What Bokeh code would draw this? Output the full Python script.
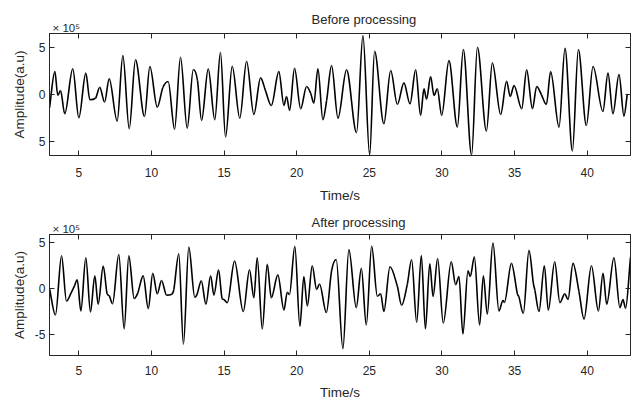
import numpy as np
from bokeh.plotting import figure
from bokeh.layouts import column
from bokeh.models import Range1d, LinearAxis, FixedTicker, Title, ColumnDataSource
from bokeh.embed import file_html
from bokeh.resources import INLINE

# ---------------- data (amplitude in units of 1e5) ----------------
t_before = [2.98, 3.35, 3.55, 3.74, 4.03, 4.58, 5.0, 5.48, 5.76, 6.15, 6.44, 6.77, 7.09, 7.64,
            8.03, 8.47, 8.9, 9.52, 9.89, 10.4, 10.78, 11.15, 11.59, 12.0, 12.46, 12.88, 13.17,
            13.45, 13.91, 14.36, 14.75, 15.1, 15.56, 16.08, 16.55, 17.05, 17.51, 17.86, 18.25,
            18.77, 19.12, 19.3, 19.51, 19.85, 20.27, 20.68, 20.96, 21.18, 21.46, 21.8, 22.06,
            22.4, 22.84, 23.43, 24.12, 24.56, 25.02, 25.36, 26.0, 26.47, 26.93, 27.38, 27.8,
            28.19, 28.53, 28.76, 28.94, 29.22, 29.45, 29.68, 29.98, 30.48, 31.06, 31.47, 32.04,
            32.44, 33.06, 33.47, 34.04, 34.45, 34.7, 34.96, 35.49, 35.83, 36.23, 36.52, 36.84,
            37.19, 37.48, 38.06, 38.47, 38.98, 39.39, 39.94, 40.4, 41.08, 41.43, 41.77, 42.19,
            42.53, 42.76]
a_before = [-1.43, 2.46, -0.1, 0.43, -2.07, 2.75, -2.5, 2.29, -0.57, -0.39, 0.78, -0.82, 1.68, -2.86,
            4.18, -3.68, 3.72, -2.36, 3.0, -1.36, 0.72, 1.39, -3.72, 4.0, -3.61, 2.68, 1.5,
            -2.79, 2.75, -2.71, 4.53, -4.57, 3.03, -2.54, 3.57, -2.14, 1.79, 0.36, -1.18,
            2.46, -1.18, -0.21, -1.71, 2.82, -1.53, 0.86, 0.14, -0.93, 2.75, -2.71, -0.64,
            3.1, -2.54, 2.64, -4.1, 6.32, -6.5, 4.64, -3.14, 2.57, -1.07, 1.25, -1.0,
            2.64, -2.25, 0.6, -0.5, 1.93, -0.1, 0.6, -2.25, 3.64, -3.5, 4.82, -6.5,
            5.07, -3.93, 3.4, -2.14, 1.43, -0.21, 0.96, -1.53, 2.64, -1.53, 0.86, 0.0,
            -1.07, 2.46, -3.5, 4.96, -6.07, 4.82, -3.32, 3.0, -1.82, 2.29, -2.07, 2.14,
            -2.32, 0.07]

t_after = [2.98, 3.39, 3.81, 4.15, 4.47, 4.7, 4.89, 5.14, 5.48, 5.8, 6.1, 6.33, 6.68, 6.95, 7.1,
           7.32, 7.75, 8.12, 8.44, 8.81, 9.06, 9.43, 9.78, 10.09, 10.4, 10.69, 11.04, 11.36,
           11.54, 11.88, 12.2, 12.57, 12.98, 13.15, 13.43, 13.75, 14.07, 14.3, 14.62, 14.87,
           15.0, 15.22, 15.72, 16.32, 16.75, 17.05, 17.28, 17.63, 17.97, 18.25, 18.7, 19.12,
           19.35, 19.5, 19.87, 20.22, 20.49, 20.73, 21.07, 21.37, 21.57, 22.04, 22.4, 22.72,
           23.18, 23.59, 24.1, 24.45, 24.79, 25.16, 25.55, 25.78, 26.0, 26.42, 26.93, 27.22,
           27.61, 27.91, 28.26, 28.58, 28.86, 29.16, 29.39, 29.7, 30.09, 30.64, 30.94, 31.17,
           31.44, 31.79, 31.95, 32.23, 32.59, 32.85, 33.12, 33.51, 33.92, 34.2, 34.3, 34.78,
           35.19, 35.3, 35.6, 35.99, 36.29, 36.4, 36.68, 37.05, 37.32, 37.76, 38.12, 38.45,
           38.68, 39.02, 39.43, 39.78, 40.29, 40.77, 41.09, 41.34, 41.84, 42.25, 42.46, 42.64,
           42.98]
a_after = [0.0, -2.86, 3.57, -1.36, -0.46, 0.3, 0.96, -2.43, 3.36, -2.54, 1.39, -1.71, 2.46, -0.57, -0.8,
           -1.64, 3.72, -4.39, 3.57, -1.07, -0.46, 1.39, -2.18, 1.68, -0.57, 0.89, -0.71, -0.64,
           -0.1, 3.79, -6.07, 4.53, -0.93, -0.57, 0.86, -1.71, 1.41, -0.71, 2.04, -1.11,
           -1.2, -1.53, 3.0, -2.5, 2.04, -1.0, 3.36, -4.39, 2.64, -1.0, 1.5, -2.32,
           -0.39, -0.64, 4.61, -4.1, 1.32, -1.89, 2.5, -0.1, 0.5, -2.61, 1.93, 3.18,
           -6.54, 4.25, -2.07, 2.22, -3.97, 4.64, -0.82, -0.57, -2.5, 2.39, 0.25, -1.82,
           0.43, 3.18, -3.68, 3.6, -4.39, 2.7, -0.85, 3.29, -3.75, 2.93, 0.43, 1.32,
           -4.93, 1.93, 1.32, 3.46, -3.97, 1.39, -2.79, 5.0, -2.43, -1.29, -1.5, 2.75,
           -0.57, -0.9, -2.71, 4.18, 0.61, -0.2, -2.5, 2.5, -2.36, 2.93, -1.53, -0.57,
           -1.18, 2.75, -0.29, -3.32, 2.5, -2.43, 1.68, -1.71, 3.36, -2.07, -1.18, -2.14,
           3.4]

x_ticks = [5, 10, 15, 20, 25, 30, 35, 40]
y_ticks = [-5, 0, 5]
y_labels_before = {-5: "5", 0: "0", 5: "5"}
y_labels_after = {-5: "-5", 0: "0", 5: "5"}
titles = ["Before processing", "After  processing"]
x_label = "Time/s"
y_label = "Amplitude(a.u)"
exponent_text = "\u00d7 10\u2075"
x_lim = (2.98, 42.98)
y_lim_before = (-6.55, 6.55)
y_lim_after = (-7.29, 5.9)

FONT = "Liberation Sans"
TXT = "#262626"


def bezier_source(t, a):
    t = np.asarray(t, float)
    a = np.asarray(a, float)
    n = len(t)
    sec = np.diff(a) / np.diff(t)
    m = np.zeros(n)
    m[0] = sec[0]
    m[-1] = sec[-1]
    for i in range(1, n - 1):
        if sec[i - 1] * sec[i] <= 0:
            m[i] = 0.0
        else:
            s = (a[i + 1] - a[i - 1]) / (t[i + 1] - t[i - 1])
            lim = 3 * min(abs(sec[i - 1]), abs(sec[i]))
            m[i] = np.sign(s) * min(abs(s), lim)
    dt = np.diff(t)
    return ColumnDataSource(dict(
        x0=t[:-1], y0=a[:-1], x1=t[1:], y1=a[1:],
        cx0=t[:-1] + dt / 3, cy0=a[:-1] + m[:-1] * dt / 3,
        cx1=t[1:] - dt / 3, cy1=a[1:] - m[1:] * dt / 3,
    ))


def make_panel(t, a, ylim, ylabels, title, height, top, bottom, ylab_standoff,
               xlab_standoff, xtick_standoff, title_standoff):
    p = figure(width=640, height=height, output_backend="svg", toolbar_location=None,
               x_range=Range1d(*x_lim), y_range=Range1d(*ylim),
               min_border_left=49, min_border_right=10,
               min_border_top=top, min_border_bottom=bottom)
    p.background_fill_color = "white"
    p.border_fill_color = "white"
    p.outline_line_color = TXT
    p.outline_line_width = 1
    p.grid.visible = False

    p.bezier(x0="x0", y0="y0", x1="x1", y1="y1", cx0="cx0", cy0="cy0", cx1="cx1", cy1="cy1",
             source=bezier_source(t, a), line_color="black", line_width=1.6)

    xa = p.xaxis[0]
    xa.ticker = FixedTicker(ticks=x_ticks)
    ya = p.yaxis[0]
    ya.ticker = FixedTicker(ticks=y_ticks)
    ya.major_label_overrides = ylabels
    for ax in (xa, ya):
        ax.major_tick_in = 5
        ax.major_tick_out = 0
        ax.minor_tick_in = 0
        ax.minor_tick_out = 0
        ax.axis_line_color = TXT
        ax.major_tick_line_color = TXT
        ax.major_label_text_font = FONT
        ax.major_label_text_font_size = "12px"
        ax.major_label_text_color = TXT
        ax.axis_label_text_font = FONT
        ax.axis_label_text_font_size = "13.5px"
        ax.axis_label_text_font_style = "normal"
        ax.axis_label_text_color = TXT
    xa.major_label_standoff = xtick_standoff
    ya.major_label_standoff = 4
    xa.axis_label = x_label
    xa.axis_label_standoff = xlab_standoff
    ya.axis_label = y_label
    ya.axis_label_standoff = ylab_standoff

    # mirrored inner ticks on the top and right edges (box on), no labels
    for loc, tks in (("above", x_ticks), ("right", y_ticks)):
        ax = LinearAxis(ticker=FixedTicker(ticks=tks))
        ax.major_label_text_font_size = "1px"
        ax.major_label_text_color = None
        ax.major_label_standoff = 0
        ax.major_tick_in = 5
        ax.major_tick_out = 0
        ax.minor_tick_in = 0
        ax.minor_tick_out = 0
        ax.axis_line_color = TXT
        ax.major_tick_line_color = TXT
        p.add_layout(ax, loc)

    # exponent marker (nearest the frame), then main title above it
    p.add_layout(Title(text=exponent_text, align="left", offset=3, standoff=0,
                       text_font=FONT, text_font_size="11.5px", text_font_style="normal",
                       text_color=TXT), "above")
    p.title.text = title
    p.title.align = "left"
    p.title.offset = 262
    p.title.standoff = title_standoff
    p.title.text_font = FONT
    p.title.text_font_size = "13px"
    p.title.text_font_style = "normal"
    p.title.text_color = TXT
    return p


p1 = make_panel(t_before, a_before, y_lim_before, y_labels_before, titles[0],
                205, 33, 50, 9, 8, 12, -14)
p2 = make_panel(t_after, a_after, y_lim_after, y_labels_after, titles[1],
                197, 29, 45, 5, 7, 10, -18)

layout = column(p1, p2, spacing=0)
open("out.html", "w").write(file_html(layout, INLINE))
